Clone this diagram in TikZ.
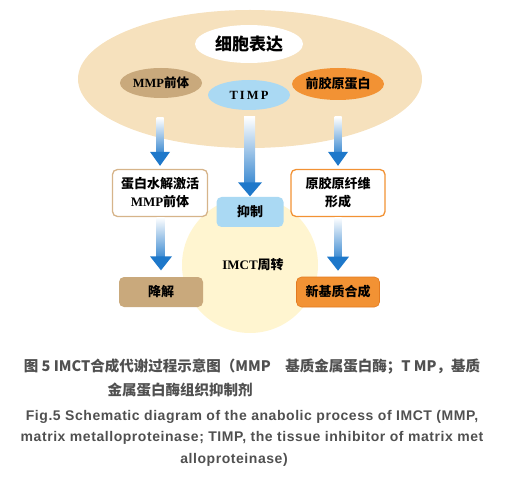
\documentclass[tikz,border=0pt]{standalone}
\usepackage{fontspec}
\setmainfont{Liberation Serif}
\newfontfamily\cjk{Noto Sans CJK SC}
\newfontfamily\capfont{Liberation Sans}[LetterSpace=4]
\usetikzlibrary{positioning, calc, shapes.geometric}

\definecolor{cellbg}{RGB}{246,225,189}
\definecolor{tanfill}{RGB}{201,169,124}
\definecolor{timpblue}{RGB}{170,217,243}
\definecolor{orangefill}{RGB}{242,146,52}
\definecolor{orangeline}{RGB}{226,122,32}
\definecolor{tanline}{RGB}{214,180,138}
\definecolor{creamfill}{RGB}{255,245,208}
\definecolor{arrowblue}{RGB}{30,120,202}
\definecolor{captext}{RGB}{80,80,80}

\begin{document}
\begin{tikzpicture}[
    x=1pt, y=-1pt,
    blob/.style={
        ellipse,
        draw=none,
        inner sep=0pt,
        font=\bfseries\fontsize{12.5}{14}\selectfont
    },
    stagebox/.style={
        rectangle,
        rounded corners=5pt,
        line width=1.3pt,
        align=center,
        inner sep=2pt,
        font=\cjk\bfseries\fontsize{13}{18}\selectfont
    },
    captionzh/.style={text=captext, font=\cjk\bfseries\fontsize{14.5}{16}\selectfont},
    captionen/.style={text=captext, font=\capfont\bfseries\fontsize{14}{16}\selectfont}
]

\useasboundingbox (0, 0) rectangle (508, 486);

\node[ellipse, fill=cellbg, minimum width=344pt, minimum height=138pt] (cell) at (250, 79) {};
\node[blob, fill=white, minimum width=108pt, minimum height=38pt,
      font=\cjk\bfseries\fontsize{17}{19}\selectfont] (expr) at (249, 44) {细胞表达};
\node[blob, fill=tanfill, minimum width=82pt, minimum height=30pt] (promm) at (161, 83) {MMP\cjk 前体};
\node[blob, fill=timpblue, minimum width=82pt, minimum height=30pt] (timp) at (249, 95) {T\,I\,M\,P};
\node[blob, fill=orangefill, minimum width=83pt, minimum height=32pt,
      font=\cjk\bfseries\fontsize{13}{15}\selectfont] (procol) at (338, 84) {前胶原蛋白};

\node[circle, fill=creamfill, minimum size=136pt] (turn) at (250, 265) {};
\node[font=\bfseries\fontsize{13}{15}\selectfont] (turnlbl) at (253, 265) {IMCT\cjk 周转};

\node[stagebox, draw=tanline, fill=white, minimum width=95pt, minimum height=47pt] (activ) at (160, 193) {蛋白水解激活\\{\rmfamily MMP}前体};
\node[stagebox, fill=timpblue, minimum width=67pt, minimum height=30pt] (inhib) at (250, 212) {抑制};
\node[stagebox, draw=orangefill, fill=white, minimum width=94pt, minimum height=47pt] (fibril) at (338, 193) {原胶原纤维\\形成};
\node[stagebox, fill=tanfill, minimum width=84pt, minimum height=30pt] (degr) at (161, 292) {降解};
\node[stagebox, draw=orangeline, line width=0.6pt, fill=orangefill, minimum width=83pt, minimum height=30pt] (synth) at (338, 292) {新基质合成};

\coordinate (s1) at (160, 118);
\coordinate (s2) at (249, 117);
\coordinate (s3) at (338, 117);

\foreach \s/\t/\w/\h/\g in {s1/activ/3.5/10/3, s2/inhib/5/12/0, s3/fibril/3.5/10/3, activ.south/degr/3.5/11/6, fibril.south/synth/3.5/11/6} {
    \shade[top color=white, bottom color=arrowblue!85] ($(\s)+(-\w,0)$) rectangle ($(\t.north)+(\w,-\g-13)$);
    \fill[arrowblue] ($(\t.north)+(-\h,-\g-14)$) -- ($(\t.north)+(\h,-\g-14)$) -- ($(\t.north)+(0,-\g)$) -- cycle;
}

\node[captionzh] (cap1) at (252, 367) {图 5 IMCT合成代谢过程示意图（MMP\quad 基质金属蛋白酶；T MP，基质};
\node[captionzh] (cap2) at (180, 390) {金属蛋白酶组织抑制剂};
\node[captionen] (cap3) at (252, 417) {Fig.5 Schematic diagram of the anabolic process of IMCT (MMP,};
\node[captionen] (cap4) at (252, 438) {matrix metalloproteinase; TIMP, the tissue inhibitor of matrix met};
\node[captionen] (cap5) at (234, 460) {alloproteinase)};

\end{tikzpicture}
\end{document}
